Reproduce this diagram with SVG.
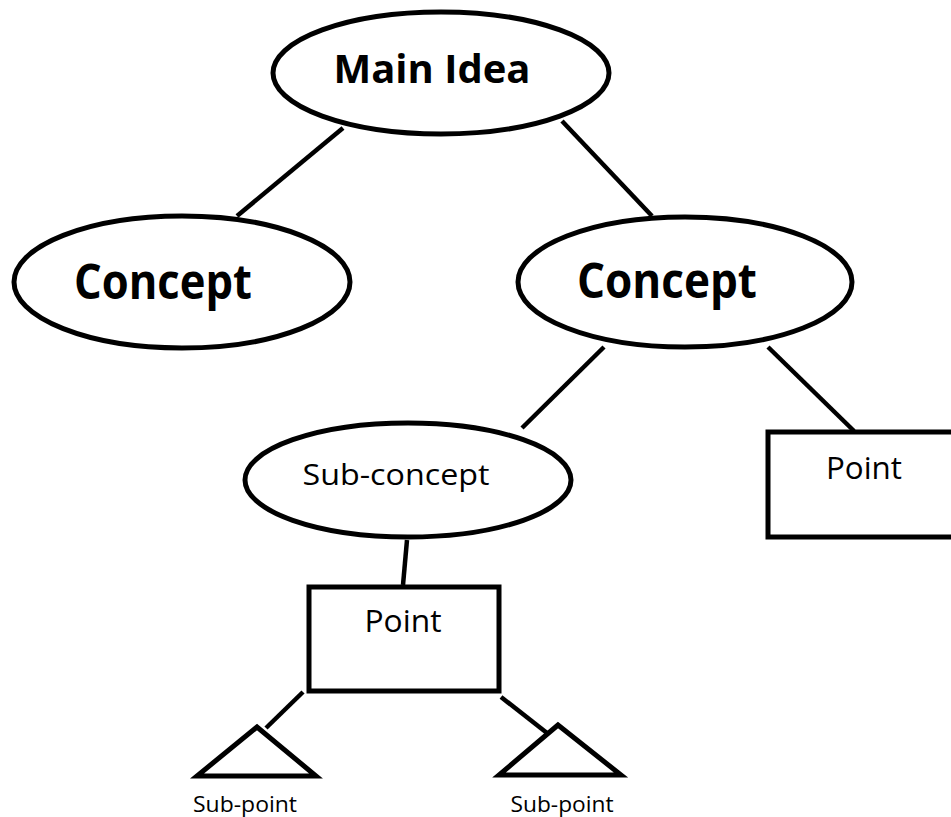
<svg xmlns="http://www.w3.org/2000/svg" width="951" height="817" viewBox="0 0 951 817">
<style>
.shape{fill:#fff;stroke:#000;stroke-width:5}
.edge{stroke:#000;stroke-width:4.5;fill:none}
.t{font-family:"Open Sans","Liberation Sans",sans-serif;fill:#000;text-anchor:middle}
.b{font-weight:bold}
</style>
<rect width="951" height="817" fill="#fff"/>
<g id="connectors">
<line class="edge" x1="343" y1="128" x2="237" y2="216"/>
<line class="edge" x1="562" y1="121" x2="652" y2="216"/>
<line class="edge" x1="604" y1="347" x2="522" y2="428"/>
<line class="edge" x1="768" y1="347" x2="854" y2="431"/>
<line class="edge" x1="407" y1="540" x2="403" y2="585"/>
<line class="edge" x1="303" y1="692" x2="266" y2="728"/>
<line class="edge" x1="501" y1="697" x2="547" y2="733"/>
</g>
<g id="main-idea">
<ellipse class="shape" cx="441" cy="73" rx="168" ry="61"/>
<text class="t b" x="432" y="83" font-size="40" textLength="197" lengthAdjust="spacingAndGlyphs">Main Idea</text>
</g>
<g id="concept-left">
<ellipse class="shape" cx="182" cy="282" rx="168" ry="66"/>
<text class="t b" x="163" y="299" font-size="48" textLength="178" lengthAdjust="spacingAndGlyphs">Concept</text>
</g>
<g id="concept-right">
<ellipse class="shape" cx="685" cy="282" rx="167" ry="65"/>
<text class="t b" x="667" y="298" font-size="48" textLength="180" lengthAdjust="spacingAndGlyphs">Concept</text>
</g>
<g id="sub-concept">
<ellipse class="shape" cx="408" cy="480" rx="163" ry="57"/>
<text class="t" x="396" y="485" font-size="30" textLength="187" lengthAdjust="spacingAndGlyphs">Sub-concept</text>
</g>
<g id="point-right">
<rect class="shape" x="768" y="432" width="200" height="105"/>
<text class="t" x="864" y="479" font-size="31" textLength="76" lengthAdjust="spacingAndGlyphs">Point</text>
</g>
<g id="point-lower">
<rect class="shape" x="309" y="587" width="190" height="104"/>
<text class="t" x="403" y="632" font-size="31" textLength="77" lengthAdjust="spacingAndGlyphs">Point</text>
</g>
<g id="sub-point-left">
<polygon class="shape" points="257,727 197,776 316,776"/>
<text class="t" x="245" y="812" font-size="21" textLength="104" lengthAdjust="spacingAndGlyphs">Sub-point</text>
</g>
<g id="sub-point-right">
<polygon class="shape" points="558,725 499,775 621,775"/>
<text class="t" x="562" y="812" font-size="21" textLength="103" lengthAdjust="spacingAndGlyphs">Sub-point</text>
</g>
</svg>
